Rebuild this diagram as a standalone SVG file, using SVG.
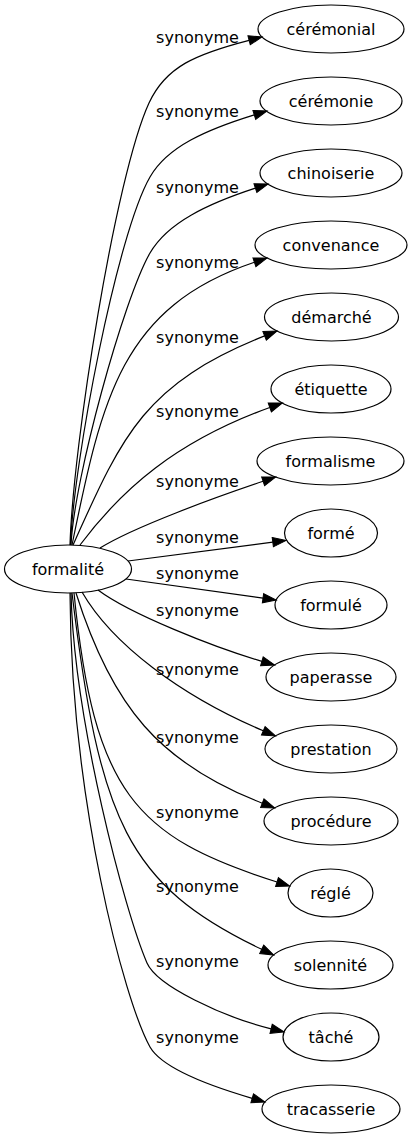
<svg xmlns="http://www.w3.org/2000/svg" width="412" height="1139" viewBox="0 0 412 1139">
<style>
.node ellipse{fill:none;stroke:#000;stroke-width:1.2}
.node text{font-family:"DejaVu Sans",Verdana,sans-serif;font-size:16px;text-anchor:middle;fill:#000}
.edges path{fill:none;stroke:#000;stroke-width:1.2;marker-end:url(#arr)}
.lbl{font-family:"DejaVu Sans",Verdana,sans-serif;font-size:16px;text-anchor:middle;fill:#000}
</style>
<defs>
<marker id="arr" markerUnits="userSpaceOnUse" viewBox="0 0 13.33 9.33" refX="0" refY="4.665" markerWidth="13.33" markerHeight="9.33" orient="auto" style="overflow:visible">
<polygon points="0,0 13.33,4.665 0,9.33" fill="#000" stroke="#000" stroke-width="1"/>
</marker>
</defs>
<rect x="0" y="0" width="412" height="1139" fill="#fff"/>
<g id="connectors" class="edges">
<path d="M70,545 C73,445 115.4,175.8 149,103 C165.8,66.6 195.9,54 249.1,40.3"/>
<path d="M70.5,545 C73.5,462 117,234 150,177 C167.5,146.5 206.5,129.7 254.3,114.9"/>
<path d="M71,545 C74,479 123.5,299 150,253 C167.5,222.5 207.9,203.6 255.4,188.1"/>
<path d="M72,545 C102,398 121.4,307.1 254.4,262.3"/>
<path d="M73,545 C122,436 143.7,384 264.6,335.9"/>
<path d="M80,545 C122,489 175.8,441.5 269.8,407.5"/>
<path d="M100,548 C134,526.8 215.6,497.3 263.1,481.3"/>
<path d="M128,561 L272.8,542.2"/>
<path d="M126,579 L263,598.2"/>
<path d="M98,590 C130,614 213.9,647.3 261.9,661.3"/>
<path d="M82,592 C112,644 180.5,695.7 263.3,730.8"/>
<path d="M76,593 C112,707 160,763.6 262.3,803.2"/>
<path d="M74,593 C94,792 134.5,837 277,882"/>
<path d="M72,593 C99.6,820.7 126.7,884.8 261.7,949.3"/>
<path d="M71,593 C74,720 125,912.4 147,963 C157,986 222.6,1016.8 271.1,1028.8"/>
<path d="M70,593 C71,800 124,1000 150,1047 C162.5,1068.7 213.8,1087.1 252.2,1098.3"/>
<text class="lbl" x="197.5" y="43">synonyme</text>
<text class="lbl" x="197.5" y="117">synonyme</text>
<text class="lbl" x="197.5" y="193">synonyme</text>
<text class="lbl" x="197.5" y="268">synonyme</text>
<text class="lbl" x="197.5" y="343">synonyme</text>
<text class="lbl" x="197.5" y="417">synonyme</text>
<text class="lbl" x="197.5" y="487">synonyme</text>
<text class="lbl" x="197.5" y="543">synonyme</text>
<text class="lbl" x="197.5" y="579">synonyme</text>
<text class="lbl" x="197.5" y="616">synonyme</text>
<text class="lbl" x="197.5" y="675">synonyme</text>
<text class="lbl" x="197.5" y="743">synonyme</text>
<text class="lbl" x="197.5" y="818">synonyme</text>
<text class="lbl" x="197.5" y="892">synonyme</text>
<text class="lbl" x="197.5" y="967">synonyme</text>
<text class="lbl" x="197.5" y="1043">synonyme</text>
</g>
<g id="formalite" class="node"><ellipse cx="68" cy="569" rx="63.5" ry="24"/><text x="68" y="574.5">formalité</text></g>
<g id="ceremonial" class="node"><ellipse cx="331" cy="29" rx="73" ry="24"/><text x="331" y="34.5">cérémonial</text></g>
<g id="ceremonie" class="node"><ellipse cx="331" cy="101" rx="71" ry="24"/><text x="331" y="106.5">cérémonie</text></g>
<g id="chinoiserie" class="node"><ellipse cx="331" cy="173" rx="71" ry="24"/><text x="331" y="178.5">chinoiserie</text></g>
<g id="convenance" class="node"><ellipse cx="331" cy="245" rx="76" ry="24"/><text x="331" y="250.5">convenance</text></g>
<g id="demarche" class="node"><ellipse cx="331.5" cy="317" rx="67" ry="24"/><text x="331.5" y="322.5">démarché</text></g>
<g id="etiquette" class="node"><ellipse cx="331" cy="389" rx="60" ry="24"/><text x="331" y="394.5">étiquette</text></g>
<g id="formalisme" class="node"><ellipse cx="330.5" cy="461" rx="73.5" ry="24"/><text x="330.5" y="466.5">formalisme</text></g>
<g id="forme" class="node"><ellipse cx="331" cy="533" rx="46.5" ry="24"/><text x="331" y="538.5">formé</text></g>
<g id="formule" class="node"><ellipse cx="331" cy="605" rx="56" ry="24"/><text x="331" y="610.5">formulé</text></g>
<g id="paperasse" class="node"><ellipse cx="331" cy="677" rx="65" ry="24"/><text x="331" y="682.5">paperasse</text></g>
<g id="prestation" class="node"><ellipse cx="331" cy="749" rx="66" ry="24"/><text x="331" y="754.5">prestation</text></g>
<g id="procedure" class="node"><ellipse cx="331" cy="821" rx="67" ry="24"/><text x="331" y="826.5">procédure</text></g>
<g id="regle" class="node"><ellipse cx="330.5" cy="893" rx="42.5" ry="24"/><text x="330.5" y="898.5">réglé</text></g>
<g id="solennite" class="node"><ellipse cx="330.5" cy="965" rx="62.5" ry="24"/><text x="330.5" y="970.5">solennité</text></g>
<g id="tache" class="node"><ellipse cx="331" cy="1037" rx="48" ry="24"/><text x="331" y="1042.5">tâché</text></g>
<g id="tracasserie" class="node"><ellipse cx="331" cy="1109" rx="69" ry="24"/><text x="331" y="1114.5">tracasserie</text></g>
</svg>
